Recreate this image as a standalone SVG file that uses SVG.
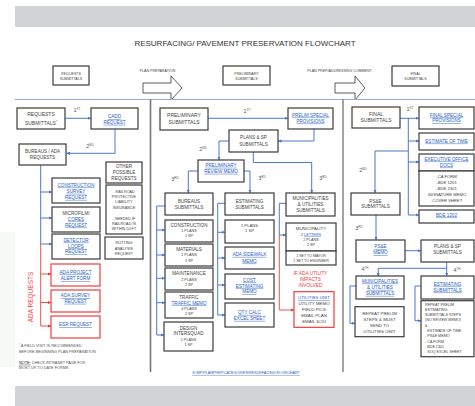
<svg xmlns="http://www.w3.org/2000/svg" width="475" height="406" viewBox="0 0 475 406">
<defs>
<style>
.bx{fill:#fff;stroke:#3a3a3a;stroke-width:1.2}
.rb{fill:#fff;stroke:#f02828;stroke-width:1.1}
text{font-family:"Liberation Sans",Arial,sans-serif;fill:#444;text-anchor:middle;font-size:4.6px}
.s{font-size:3.8px}
.lg{font-size:3.6px}
.k{fill:#2a62c8;text-decoration:underline}
.n{font-size:5.5px;fill:#555}
.rt{fill:#f04040;font-size:4.8px}
.c{fill:none;stroke:#4a78d0;stroke-width:1}
.r{fill:none;stroke:#f05050;stroke-width:1}
.ft{text-anchor:start;font-size:3.8px;fill:#555}
</style>
<marker id="a" viewBox="0 0 6 6" refX="6" refY="3" markerWidth="3.5" markerHeight="3.5" orient="auto"><path d="M0,0L6,3L0,6z" fill="#4a78d0"/></marker>
<marker id="ar" viewBox="0 0 6 6" refX="6" refY="3" markerWidth="3.5" markerHeight="3.5" orient="auto"><path d="M0,0L6,3L0,6z" fill="#f03030"/></marker>
</defs>
<rect width="475" height="406" fill="#fff"/>
<rect x="15" y="6" width="460" height="21" fill="#d2d3d5"/>
<rect x="15" y="386" width="460" height="20" fill="#d2d3d5"/>
<rect x="0" y="232" width="15" height="135" fill="#f6f9f6"/>
<text x="245" y="46" style="font-size:8px;fill:#333">RESURFACING/ PAVEMENT PRESERVATION FLOWCHART</text>

<g id="legend">
<g id="leg-requests"><rect class="bx" x="53" y="66" width="36" height="19" stroke-width="0.9"/><text class="lg" x="71" y="74.5">REQUESTS</text><text class="lg" x="71" y="79.5">SUBMITTALS</text></g>
<text class="lg" x="157.5" y="71.5">PLAN PREPARATION</text>
<polygon points="143,83 171,83 171,76 182,88 171,100 171,93 143,93" fill="#fff" stroke="#333" stroke-width="0.8"/>
<g id="leg-prelim"><rect class="bx" x="223" y="66" width="47" height="19" stroke-width="0.9"/><text class="lg" x="246.5" y="74.5">PRELIMINARY</text><text class="lg" x="246.5" y="79.5">SUBMITTALS</text></g>
<text class="lg" x="339.5" y="71.5">PLAN PREP/ADDRESSING COMMENT</text>
<polygon points="335,83 355,83 355,76 365,88 355,100 355,93 335,93" fill="#fff" stroke="#333" stroke-width="0.8"/>
<g id="leg-final"><rect class="bx" x="392" y="66" width="47" height="20" stroke-width="0.9"/><text class="lg" x="415.5" y="74.8">FINAL</text><text class="lg" x="415.5" y="79.8">SUBMITTALS</text></g>
</g>

<line x1="15" y1="99.5" x2="475" y2="99.5" stroke="#8eaee0" stroke-width="1.2"/>
<line x1="150.5" y1="99.5" x2="150.5" y2="372" stroke="#777" stroke-width="1.6"/>
<line x1="343" y1="99.5" x2="343" y2="372" stroke="#333" stroke-width="0.9"/>

<g id="connectors">
<path class="c" d="M65,118.3H91" marker-end="url(#a)"/>
<path class="c" d="M115,129V153.3H66.5" marker-end="url(#a)"/>
<path class="c" d="M40.7,165V244"/>
<path class="c" d="M40.7,192H52" marker-end="url(#a)"/>
<path class="c" d="M40.7,218H52" marker-end="url(#a)"/>
<path class="c" d="M40.7,244H52" marker-end="url(#a)"/>
<path class="r" d="M40.7,244V326"/>
<path class="r" d="M40.7,274H51" marker-end="url(#ar)"/>
<path class="r" d="M40.7,302.5H51" marker-end="url(#ar)"/>
<path class="r" d="M40.7,326H51" marker-end="url(#ar)"/>

<path class="c" d="M208,118.3H288" marker-end="url(#a)"/>
<path class="c" d="M314,129V141H278" marker-end="url(#a)"/>
<path class="c" d="M229,141H219V160" marker-end="url(#a)"/>
<path class="c" d="M253.3,152V162.5H311.7V193" marker-end="url(#a)"/>
<path class="c" d="M198,171H188.3V193" marker-end="url(#a)"/>
<path class="c" d="M244,171H250V193" marker-end="url(#a)"/>
<path class="c" d="M165,206H156.7V335"/>
<path class="c" d="M156.7,230H165" marker-end="url(#a)"/>
<path class="c" d="M156.7,255H165" marker-end="url(#a)"/>
<path class="c" d="M156.7,278.3H165" marker-end="url(#a)"/>
<path class="c" d="M156.7,302.7H165" marker-end="url(#a)"/>
<path class="c" d="M156.7,335H164" marker-end="url(#a)"/>
<path class="c" d="M225,203.3H217.7V315"/>
<path class="c" d="M217.7,232.3H225" marker-end="url(#a)"/>
<path class="c" d="M217.7,258H225" marker-end="url(#a)"/>
<path class="c" d="M217.7,285H225" marker-end="url(#a)"/>
<path class="c" d="M217.7,315H225" marker-end="url(#a)"/>
<path class="c" d="M286,203.3H279.3V235H286" marker-end="url(#a)"/>
<path class="r" d="M279.3,235V310H294" marker-end="url(#ar)"/>

<path class="c" d="M400,118.3H419" marker-end="url(#a)"/>
<path class="c" d="M408.3,118.3V215H419" marker-end="url(#a)"/>
<path class="c" d="M408.3,141H419" marker-end="url(#a)"/>
<path class="c" d="M408.3,162H419" marker-end="url(#a)"/>
<path class="c" d="M408.3,151H375V193" marker-end="url(#a)"/>
<path class="c" d="M376,215V240" marker-end="url(#a)"/>
<path class="c" d="M405,250.7H421" marker-end="url(#a)"/>
<path class="c" d="M446.7,262V276" marker-end="url(#a)"/>
<path class="c" d="M446.7,268.3H378.3V276" marker-end="url(#a)"/>
<path class="c" d="M356,286H350V323.3H355" marker-end="url(#a)"/>
<path class="c" d="M421,286H415V320.7H421" marker-end="url(#a)"/>
</g>

<g id="labels">
<text class="n" x="77" y="112">1<tspan font-size="3" dy="-2">ST</tspan></text>
<text class="n" x="90" y="148">2<tspan font-size="3" dy="-2">ND</tspan></text>
<text class="n" x="247" y="113">1<tspan font-size="3" dy="-2">ST</tspan></text>
<text class="n" x="203" y="151">2<tspan font-size="3" dy="-2">ND</tspan></text>
<text class="n" x="175" y="181">3<tspan font-size="3" dy="-2">RD</tspan></text>
<text class="n" x="262" y="180">3<tspan font-size="3" dy="-2">RD</tspan></text>
<text class="n" x="323" y="180">3<tspan font-size="3" dy="-2">RD</tspan></text>
<text class="n" x="410" y="111">1<tspan font-size="3" dy="-2">ST</tspan></text>
<text class="n" x="363" y="172">2<tspan font-size="3" dy="-2">ND</tspan></text>
<text class="n" x="359" y="230">3<tspan font-size="3" dy="-2">RD</tspan></text>
<text class="n" x="365" y="271">4<tspan font-size="3" dy="-2">TH</tspan></text>
<text class="n" x="457" y="272">4<tspan font-size="3" dy="-2">TH</tspan></text>
</g>

<g id="requests-submittals"><rect class="bx" x="17" y="108" width="48" height="21"/><text x="41" y="116" style="font-size:5px">REQUESTS</text><text x="41" y="125" style="font-size:5px">SUBMITTALS<tspan font-size="3" dy="-2">*</tspan></text></g>
<g id="cadd-request"><rect class="bx" x="91" y="108" width="47" height="21"/><text class="k" x="114.5" y="118.3">CADD</text><text class="k" x="114.5" y="123.8">REQUEST</text></g>
<g id="bureaus-ada"><rect class="bx" x="19" y="144" width="47" height="21"/><text x="42.5" y="153">BUREAUS / ADA</text><text x="42.5" y="159">REQUESTS</text></g>
<g id="construction-survey"><rect class="bx" x="52" y="178" width="48" height="25"/><text class="k" x="76" y="186.6">CONSTRUCTION</text><text class="k" x="76" y="192.8">SURVEY</text><text class="k" x="76" y="198.9">REQUEST</text></g>
<g id="microfilm"><rect class="bx" x="52" y="207" width="48" height="25"/><text x="76" y="214.6">MICROFILM/</text><text class="k" x="76" y="220.6">CORES</text><text class="k" x="76" y="226.6">REQUEST</text></g>
<g id="detector"><rect class="bx" x="52" y="234" width="48" height="25"/><text class="k" x="76" y="241.6">DETECTOR</text><text class="k" x="76" y="247.6">LOOPS</text><text class="k" x="76" y="253.3">REQUEST</text></g>
<g id="other-requests"><rect class="bx" x="106" y="162" width="36" height="21"/><text x="124" y="168.3">OTHER</text><text x="124" y="174.3">POSSIBLE</text><text x="124" y="180.4">REQUESTS</text></g>
<g id="railroad"><rect class="bx" x="106" y="185" width="36" height="49"/><text class="s" x="124" y="193">- RAILROAD</text><text class="s" x="124" y="198.2">PROTECTIVE</text><text class="s" x="124" y="203.4">LIABILITY</text><text class="s" x="124" y="208.6">INSURANCE</text><text class="s" x="124" y="219.6">- NEEDED IF</text><text class="s" x="124" y="224.8">RAILROAD IS</text><text class="s" x="124" y="230">WITHIN 50 FT</text></g>
<g id="rutting"><rect class="bx" x="105" y="237" width="38" height="22"/><text class="s" x="124" y="244.3">RUTTING</text><text class="s" x="124" y="249.6">ANALYSIS</text><text class="s" x="124" y="254.6">REQUEST</text></g>
<g id="ada-alert"><rect class="rb" x="51" y="264" width="49" height="22"/><text class="k" x="75.5" y="273.6">ADA PROJECT</text><text class="k" x="75.5" y="280.3">ALERT FORM</text></g>
<g id="ada-survey"><rect class="rb" x="51" y="290" width="49" height="22"/><text class="k" x="75.5" y="297.3">ADA SURVEY</text><text class="k" x="75.5" y="302.8">REQUEST</text></g>
<g id="esr"><rect class="rb" x="51" y="316" width="49" height="22"/><text class="k" x="75.5" y="326">ESR REQUEST</text></g>
<text transform="translate(33,297) rotate(-90)" style="font-size:6.5px;fill:#f04848">ADA REQUESTS</text>
<g id="footnotes">
<text class="ft" x="19" y="347.3"><tspan font-size="2.6" dy="-1">*</tspan><tspan dy="1"> A FIELD VISIT IS RECOMMENDED</tspan></text>
<text class="ft" x="19" y="353.2">BEFORE BEGINNING PLAN PREPARATION</text>
<text class="ft" x="19" y="363.8"><tspan style="fill:#111;text-decoration:underline">NOTE:</tspan> CHECK INTRANET PAGE FOR</text>
<text class="ft" x="19" y="369.2">MOST UP-TO DATE FORMS</text>
</g>

<g id="prelim-submittals"><rect class="bx" x="160" y="108" width="48" height="22"/><text x="184" y="116.7" style="font-size:5px">PRELIMINARY</text><text x="184" y="124.3" style="font-size:5px">SUBMITTALS</text></g>
<g id="prelim-special"><rect class="bx" x="288" y="108" width="45" height="21"/><text class="k" x="310.5" y="116.6" style="font-size:4.5px">PRELIM SPECIAL</text><text class="k" x="310.5" y="122.6" style="font-size:4.5px">PROVISIONS</text></g>
<g id="plans-sp-1"><rect class="bx" x="229" y="130" width="49" height="22"/><text x="253.5" y="139.3">PLANS &amp; SP</text><text x="253.5" y="145.6">SUBMITTALS</text></g>
<g id="review-memo"><rect class="bx" x="198" y="160" width="46" height="22"/><text class="k" x="221" y="166.8">PRELIMINARY</text><text class="k" x="221" y="172.8">REVIEW MEMO</text></g>
<g id="bureaus-submittals"><rect class="bx" x="165" y="193" width="48" height="22"/><text x="189" y="202.6">BUREAUS</text><text x="189" y="208.6">SUBMITTALS</text></g>
<g id="estimating-submittals"><rect class="bx" x="225" y="193" width="49" height="22"/><text x="249.5" y="202.6">ESTIMATING</text><text x="249.5" y="208.6">SUBMITTALS</text></g>
<g id="muni-util-1"><rect class="bx" x="286" y="193" width="49" height="23"/><text x="310.5" y="199.9">MUNICIPALITIES</text><text x="310.5" y="205.9">&amp; UTILITIES</text><text x="310.5" y="211.6">SUBMITTALS</text></g>
<g id="construction"><rect class="bx" x="165" y="220" width="48" height="22"/><text x="189" y="226.6">CONSTRUCTION</text><text class="s" x="189" y="232">1 PLANS</text><text class="s" x="189" y="237.3">1 SP</text></g>
<g id="materials"><rect class="bx" x="165" y="244" width="48" height="22"/><text x="189" y="250.6">MATERIALS</text><text class="s" x="189" y="256.3">1 PLANS</text><text class="s" x="189" y="262">1 SP</text></g>
<g id="maintenance"><rect class="bx" x="165" y="268" width="48" height="22"/><text x="189" y="274.9">MAINTENANCE</text><text class="s" x="189" y="280.6">2 PLANS</text><text class="s" x="189" y="285.6">2 SP</text></g>
<g id="traffic"><rect class="bx" x="165" y="292" width="48" height="26"/><text x="189" y="298.9">TRAFFIC</text><text class="k" x="189" y="304.5">TRAFFIC MEMO</text><text class="s" x="189" y="310.3">4 PLANS</text><text class="s" x="189" y="315.3">2 SP</text></g>
<g id="design"><rect class="bx" x="164" y="322" width="49" height="29"/><text x="188.5" y="329.9">DESIGN</text><text x="188.5" y="334.9">INTERSQUAD</text><text class="s" x="188.5" y="340.6">1 PLANS</text><text class="s" x="188.5" y="345.6">1 SP</text></g>
<g id="est-plans"><rect class="bx" x="225" y="220" width="49" height="23"/><text class="s" x="249.5" y="226.5" style="font-size:4.2px">1 PLANS</text><text class="s" x="249.5" y="232.2" style="font-size:4.2px">1 SP</text></g>
<g id="ada-sidewalk"><rect class="bx" x="225" y="247" width="49" height="22"/><text class="k" x="249.5" y="255.9">ADA SIDEWALK</text><text class="k" x="249.5" y="262.6">MEMO</text></g>
<g id="cost-memo"><rect class="bx" x="225" y="274" width="49" height="25"/><text class="k" x="249.5" y="281.6">COST</text><text class="k" x="249.5" y="287.6">ESTIMATING</text><text class="k" x="249.5" y="293.3">MEMO</text></g>
<g id="qty-calc"><rect class="bx" x="225" y="303" width="49" height="24"/><text class="k" x="249.5" y="313.9">QTY CALC</text><text class="k" x="249.5" y="319.9">EXCEL SHEET</text></g>
<g id="municipality"><rect class="bx" x="286" y="223" width="50" height="28"/><text x="311" y="229.9" style="font-size:4.4px">MUNICIPALITY</text><text class="s" x="311" y="235.6">2 <tspan class="k">LETTERS</tspan></text><text class="s" x="311" y="240.6">2 PLANS</text><text class="s" x="311" y="245.6">2 SP</text></g>
<g id="municipality-sets"><rect class="bx" x="286" y="251" width="50" height="14"/><text class="lg" x="311" y="257.3">1 SET TO MAYOR</text><text class="lg" x="311" y="261.6">1 SET TO ENGINEER</text></g>
<text class="rt" x="310.5" y="275">IF ADA UTILITY</text>
<text class="rt" x="310.5" y="281">IMPACTS</text>
<text class="rt" x="310.5" y="287">INVOLVED</text>
<g id="utilities-unit"><rect class="rb" x="294" y="291.7" width="40" height="35.6"/><text class="k" x="314" y="299.3" style="font-size:4.4px">UTILITIES UNIT</text><text x="314" y="305" style="font-size:4.4px">UTILITY MEMO</text><text x="314" y="311" style="font-size:4.4px">FIELD PICS</text><text x="314" y="316.6" style="font-size:4.4px">EMAIL PLAN</text><text x="314" y="323.3" style="font-size:4.4px">EMAIL SOU</text></g>
<text class="k" x="246" y="374" style="font-size:3.7px">S:\MP\PLANPREP\CATEGORIES\RESURFACING FLOWCHART</text>

<g id="final-submittals"><rect class="bx" x="352" y="107" width="48" height="21"/><text x="376" y="115.6" style="font-size:5px">FINAL</text><text x="376" y="122.3" style="font-size:5px">SUBMITTALS</text></g>
<g id="final-special"><rect class="bx" x="419" y="107" width="55" height="22"/><text class="k" x="446.5" y="116.6">FINAL SPECIAL</text><text class="k" x="446.5" y="122.3">PROVISIONS</text></g>
<g id="estimate-time"><rect class="bx" x="419" y="133" width="55" height="17"/><text class="k" x="446.5" y="142.6">ESTIMATE OF TIME</text></g>
<g id="exec-docs"><rect class="bx" x="419" y="154" width="55" height="17"/><text class="k" x="446.5" y="160.6">EXECUTIVE OFFICE</text><text class="k" x="446.5" y="166.6">DOCS</text></g>
<g id="exec-list"><rect class="bx" x="419" y="171" width="55" height="35"/><text x="446.5" y="177.5" style="font-size:4.2px">-CA FORM</text><text x="446.5" y="183.8" style="font-size:4.2px">-BDE 1201</text><text x="446.5" y="189.8" style="font-size:4.2px">-BDE 2301</text><text x="446.5" y="195.5" style="font-size:4.2px">-SIGNATURE MEMO</text><text x="446.5" y="201.5" style="font-size:4.2px">-COVER SHEET</text></g>
<g id="bde1202"><rect class="bx" x="419" y="210" width="55" height="13"/><text class="k" x="446.5" y="216.6">BDE 1202</text></g>
<g id="pse-submittals"><rect class="bx" x="351" y="193" width="49" height="22"/><text x="375.5" y="202.6">PS&amp;E</text><text x="375.5" y="208.3">SUBMITTALS</text></g>
<g id="pse-memo"><rect class="bx" x="356" y="240" width="49" height="22"/><text class="k" x="380.5" y="248.3">PS&amp;E</text><text class="k" x="380.5" y="254.3">MEMO</text></g>
<g id="plans-sp-2"><rect class="bx" x="421" y="240" width="53" height="22"/><text x="447.5" y="248.3">PLANS &amp; SP</text><text x="447.5" y="254.3">SUBMITTALS</text></g>
<g id="muni-util-2"><rect class="bx" x="356" y="276" width="48" height="23"/><text class="k" x="380" y="282.6">MUNICIPALITIES</text><text class="k" x="380" y="288.9">&amp; UTILITIES</text><text class="k" x="380" y="294.9">SUBMITTALS</text></g>
<g id="estimating-2"><rect class="bx" x="421" y="276" width="53" height="23"/><text class="k" x="447.5" y="285.6">ESTIMATING</text><text class="k" x="447.5" y="291.6">SUBMITTALS</text></g>
<g id="repeat-utilities"><rect class="bx" x="355" y="306.7" width="49" height="30"/><text x="379.5" y="314.5" style="font-size:4.4px">REPEAT PRELIM</text><text x="379.5" y="320.5" style="font-size:4.4px">STEPS &amp; MUST</text><text x="379.5" y="326.5" style="font-size:4.4px">SEND TO</text><text x="379.5" y="332.5" style="font-size:4.4px">UTILITIES UNIT</text></g>
<g id="repeat-estimating"><rect class="bx" x="421" y="300.7" width="53" height="56"/>
<text class="ft" x="425" y="306.3" style="fill:#444;font-size:3.7px">REPEAT PRELIM</text>
<text class="ft" x="425" y="311.3" style="fill:#444;font-size:3.7px">ESTIMATING</text>
<text class="ft" x="425" y="316.3" style="fill:#444;font-size:3.7px">SUBMITTALS STEPS</text>
<text class="ft" x="425" y="321.3" style="fill:#444;font-size:3.7px">(NO REVIEW MEMO)</text>
<text class="ft" x="425" y="327" style="fill:#444;font-size:3.7px">&amp;</text>
<text class="ft" x="425" y="332.3" style="fill:#444;font-size:3.7px">- ESTIMATE OF TIME</text>
<text class="ft" x="425" y="337.3" style="fill:#444;font-size:3.7px">- PS&amp;E MEMO</text>
<text class="ft" x="425" y="343" style="fill:#444;font-size:3.7px">- CA FORM</text>
<text class="ft" x="425" y="348" style="fill:#444;font-size:3.7px">- BDE 2301</text>
<text class="ft" x="425" y="353" style="fill:#444;font-size:3.7px">- SOQ EXCEL SHEET</text>
</g>
</svg>
